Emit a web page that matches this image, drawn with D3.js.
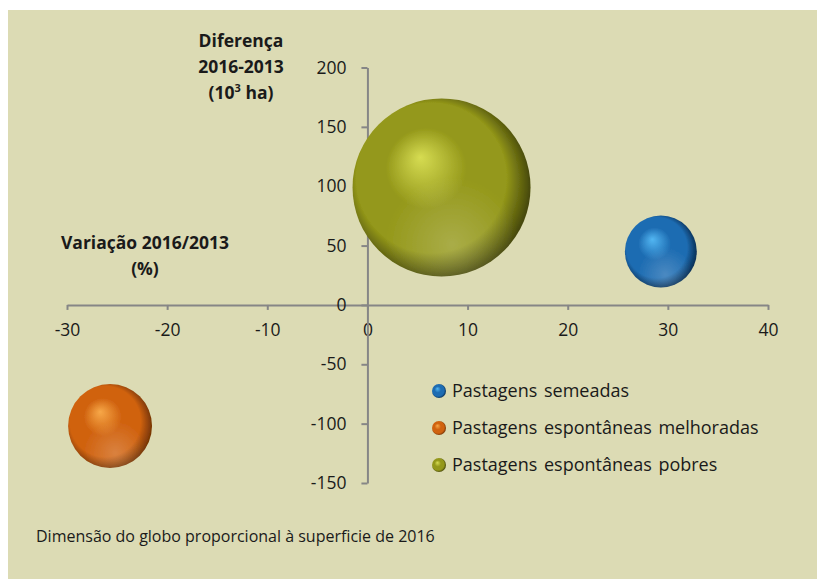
<!DOCTYPE html>
<html lang="pt">
<head>
<meta charset="UTF-8">
<title>Pastagens 2016/2013</title>
<style>
  body { margin: 0; background: #fff; }
  svg { display: block; }
  text { font-family: "Open Sans", Lato, sans-serif; fill: #1a1a1a; }
</style>
</head>
<body>
<svg id="chart" width="817" height="579"></svg>
<script src="https://cdnjs.cloudflare.com/ajax/libs/d3/7.8.5/d3.min.js"></script>
<script>
// series, x = variação (%), y = diferença (10^3 ha), size = superficie 2016
var series = ["Pastagens semeadas", "Pastagens espontâneas melhoradas", "Pastagens espontâneas pobres"];
var variacao = [29.3, -25.7, 7.4];
var diferenca = [45, -102, 99];
var superficie = [235, 320, 1440];
var xTicks = [-30, -20, -10, 0, 10, 20, 30, 40];
var yTicks = [-150, -100, -50, 0, 50, 100, 150, 200];

var colors = [
  {hi: "#52b6f2", body: "#1d6cb2", dark: "#0a3158"},
  {hi: "#f7a848", body: "#d0620f", dark: "#763505"},
  {hi: "#d6dc52", body: "#94981a", dark: "#46480a"}
];

var svg = d3.select("#chart");

svg.append("rect")
  .attr("x", 8).attr("y", 10)
  .attr("width", 809).attr("height", 569)
  .attr("fill", "#dcdbb4");

var x = d3.scaleLinear().domain([-30, 40]).range([67, 768]);
var y = d3.scaleLinear().domain([-150, 200]).range([483, 67.5]);
var r = d3.scaleSqrt().domain([0, d3.max(superficie)]).range([0, 89]);

// gradients for the 3d globes
var defs = svg.append("defs");
colors.forEach(function (c, i) {
  var g = defs.append("radialGradient")
    .attr("id", "ball" + i)
    .attr("cx", "46%").attr("cy", "48%").attr("r", "54%")
    .attr("fx", "38%").attr("fy", "33%");
  g.append("stop").attr("offset", "0%").attr("stop-color", c.hi);
  g.append("stop").attr("offset", "42%").attr("stop-color", c.body);
  g.append("stop").attr("offset", "78%").attr("stop-color", c.body);
  g.append("stop").attr("offset", "100%").attr("stop-color", c.dark);
});
var refl = defs.append("radialGradient")
  .attr("id", "refl")
  .attr("cx", "56%").attr("cy", "82%").attr("r", "38%");
refl.append("stop").attr("offset", "0%").attr("stop-color", "#fff").attr("stop-opacity", 0.2);
refl.append("stop").attr("offset", "100%").attr("stop-color", "#fff").attr("stop-opacity", 0);
defs.append("filter").attr("id", "soft")
  .append("feGaussianBlur").attr("stdDeviation", 0.7);

// axes
var axisColor = "#868686";
var fmt = function (d) { return String(d); };
var gx = svg.append("g")
  .attr("transform", "translate(0," + y(0) + ")")
  .call(d3.axisBottom(x).tickValues(xTicks).tickFormat(fmt)
    .tickSize(5).tickSizeOuter(0).tickPadding(14));
var gy = svg.append("g")
  .attr("transform", "translate(" + x(0) + ",0)")
  .call(d3.axisLeft(y).tickValues(yTicks).tickFormat(fmt)
    .tickSize(6).tickSizeOuter(0).tickPadding(15));

[gx, gy].forEach(function (g) {
  g.select(".domain").attr("stroke", axisColor).attr("stroke-width", 2);
  g.selectAll(".tick line").attr("stroke", axisColor).attr("stroke-width", 2);
  g.selectAll(".tick text")
    .attr("font-size", 17.5)
    .attr("font-family", "'Open Sans', sans-serif")
    .attr("fill", "#1a1a1a");
});

// bubbles, biggest first
var idx = d3.range(series.length).sort(function (a, b) { return superficie[b] - superficie[a]; });
var balls = svg.append("g").selectAll("g")
  .data(idx)
  .enter().append("g")
  .attr("filter", "url(#soft)");
balls.append("circle")
  .attr("cx", function (i) { return x(variacao[i]); })
  .attr("cy", function (i) { return y(diferenca[i]); })
  .attr("r", function (i) { return r(superficie[i]); })
  .attr("fill", function (i) { return "url(#ball" + i + ")"; });
balls.append("circle")
  .attr("cx", function (i) { return x(variacao[i]); })
  .attr("cy", function (i) { return y(diferenca[i]); })
  .attr("r", function (i) { return r(superficie[i]); })
  .attr("fill", "url(#refl)");

// axis titles
var ytitle = svg.append("text")
  .attr("text-anchor", "middle")
  .attr("font-weight", "bold")
  .attr("font-size", 17.5);
ytitle.append("tspan").attr("x", 241).attr("y", 47).text("Diferença");
ytitle.append("tspan").attr("x", 241).attr("y", 73).text("2016-2013");
ytitle.append("tspan").attr("x", 241).attr("y", 99).text("(10");
ytitle.append("tspan").attr("font-size", 11).attr("dy", -7).text("3");
ytitle.append("tspan").attr("dy", 7).text(" ha)");

var xtitle = svg.append("text")
  .attr("text-anchor", "middle")
  .attr("font-weight", "bold")
  .attr("font-size", 17.5);
xtitle.append("tspan").attr("x", 145).attr("y", 249).text("Variação 2016/2013");
xtitle.append("tspan").attr("x", 145).attr("y", 275).text("(%)");

// legend
var legend = svg.append("g").selectAll("g")
  .data(d3.range(series.length))
  .enter().append("g")
  .attr("transform", function (i) { return "translate(439," + (391 + i * 37) + ")"; });
legend.append("circle")
  .attr("r", 7)
  .attr("fill", function (i) { return "url(#ball" + i + ")"; });
legend.append("text")
  .attr("x", 13)
  .attr("dy", "0.35em")
  .attr("font-size", 18)
  .attr("word-spacing", 2)
  .text(function (i) { return series[i]; });

svg.append("text")
  .attr("x", 36).attr("y", 542)
  .attr("font-size", 16)
  .text("Dimensão do globo proporcional à superficie de 2016");
</script>
</body>
</html>
